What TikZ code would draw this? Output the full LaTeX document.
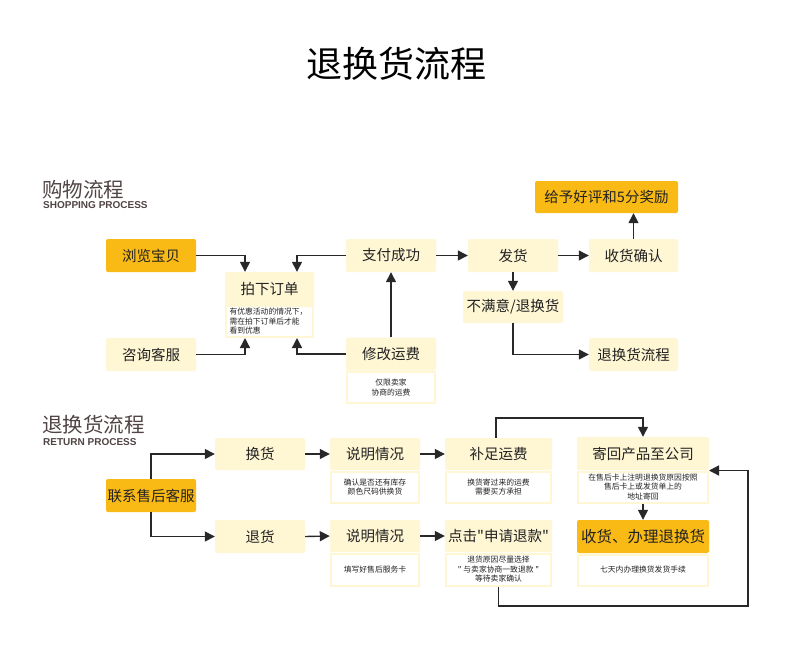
\documentclass[tikz,border=0pt]{standalone}
\usepackage{fontspec}
\setmainfont{Liberation Sans}
\newfontfamily\cjk{Noto Sans CJK SC}
\usetikzlibrary{arrows.meta,calc}
\definecolor{gold}{RGB}{249,186,22}
\definecolor{lightY}{RGB}{255,246,212}
\definecolor{lineC}{RGB}{40,40,40}
\definecolor{headC}{RGB}{80,68,68}
\definecolor{txt}{RGB}{34,34,34}
\begin{document}
\begin{tikzpicture}[x=1pt,y=-1pt,
  box/.style={rectangle, rounded corners=2pt, inner sep=0pt, text=txt,
    font=\cjk\fontsize{14.5}{16}\selectfont},
  lbox/.style={box, fill=lightY},
  obox/.style={box, fill=gold},
  note/.style={rectangle, fill=white, draw=lightY, line width=2pt, inner sep=0pt,
    text=txt, align=center, font=\cjk\fontsize{7.8}{9.5}\selectfont},
  conn/.style={draw=lineC, line width=1.4pt, -{Triangle[length=10pt,width=10pt]}},
  plain/.style={draw=lineC, line width=1.4pt},
  headzh/.style={anchor=west, inner sep=0pt, text=headC, font=\cjk\fontsize{20.5}{22}\selectfont},
  heden/.style={anchor=west, inner sep=0pt, text=headC, font=\bfseries\fontsize{10}{12}\selectfont}
]
\useasboundingbox[fill=white] (0,0) rectangle (790,667);

% title and headings
\node[inner sep=0pt, text=black, font=\cjk\fontsize{36}{40}\selectfont] (title) at (396,64) {退换货流程};
\node[headzh] (h1) at (42,190) {购物流程};
\node[heden] (h1e) at (43,205) {SHOPPING PROCESS};
\node[headzh] (h2) at (42,425) {退换货流程};
\node[heden] (h2e) at (43,442) {RETURN PROCESS};

% ---------- shopping process ----------
\node[obox, minimum width=90pt, minimum height=33pt] (browse) at (151,255.5) {浏览宝贝};
\node[lbox, minimum width=90pt, minimum height=33pt] (consult) at (151,354.5) {咨询客服};
\node[lbox, minimum width=89pt, minimum height=34pt] (order) at (269.5,289) {拍下订单};
\node[note, align=left, text width=80pt, minimum width=87pt, minimum height=31pt] (onote) at (269.5,321.5)
  {有优惠活动的情况下，\\需在拍下订单后才能\\看到优惠};
\node[lbox, minimum width=90pt, minimum height=33pt] (pay) at (391,255.5) {支付成功};
\node[lbox, minimum width=90pt, minimum height=33pt] (modify) at (391,354) {修改运费};
\node[note, minimum width=88pt, minimum height=31pt] (mnote) at (391,387.5) {仅限卖家\\协商的运费};
\node[lbox, minimum width=90pt, minimum height=33pt] (ship) at (513,255.5) {发货};
\node[lbox, minimum width=89pt, minimum height=33pt] (receive) at (633.5,255.5) {收货确认};
\node[obox, minimum width=143pt, minimum height=32pt] (praise) at (606.5,197) {给予好评和5分奖励};
\node[lbox, minimum width=100pt, minimum height=32pt] (unsat) at (513,307) {不满意/退换货};
\node[lbox, minimum width=89pt, minimum height=33pt] (rflow) at (633.5,354.5) {退换货流程};

\draw[conn] (browse.east) -| ($(order.north)+(-24.5,0)$);
\draw[conn] (consult.east) -| ($(onote.south)+(-24.5,0)$);
\draw[conn] (pay.west) -| ($(order.north)+(27.5,0)$);
\draw[conn] (modify.west) -| ($(onote.south)+(27.5,0)$);
\draw[conn] (modify.north) -- (pay.south);
\draw[conn] (pay.east) -- (ship.west);
\draw[conn] (ship.east) -- (receive.west);
\draw[conn] (receive.north) -- (receive.north |- praise.south);
\draw[conn] (ship.south) -- (unsat.north);
\draw[conn] (unsat.south) |- (rflow.west);

% ---------- return process ----------
\node[obox, minimum width=90pt, minimum height=33pt] (contact) at (151,495.5) {联系售后客服};
\node[lbox, minimum width=90pt, minimum height=32pt] (exch) at (260,454) {换货};
\node[lbox, minimum width=90pt, minimum height=33pt] (refund) at (260,536.5) {退货};

\node[lbox, minimum width=90pt, minimum height=32pt] (exp1) at (375,454) {说明情况};
\node[note, minimum width=88pt, minimum height=31pt] (n1) at (375,487) {确认是否还有库存\\颜色尺码供换货};
\node[lbox, minimum width=107pt, minimum height=32pt] (fee) at (498.5,454) {补足运费};
\node[note, minimum width=105pt, minimum height=31pt] (n2) at (498.5,487) {换货寄过来的运费\\需要买方承担};

\node[lbox, minimum width=90pt, minimum height=32pt] (exp2) at (375,536) {说明情况};
\node[note, minimum width=88pt, minimum height=32pt] (n3) at (375,569.5) {填写好售后服务卡};
\node[lbox, minimum width=107pt, minimum height=32pt] (click) at (498.5,536) {点击"申请退款"};
\node[note, minimum width=105pt, minimum height=32pt] (n4) at (498.5,569.5) {退货原因尽量选择\\" 与卖家协商一致退款 "\\等待卖家确认};

\node[lbox, minimum width=132pt, minimum height=33pt] (back) at (643,453.5) {寄回产品至公司};
\node[note, minimum width=130pt, minimum height=31pt] (n5) at (643,487) {在售后卡上注明退换货原因按照\\售后卡上或发货单上的\\地址寄回};
\node[obox, minimum width=132pt, minimum height=33pt, font=\cjk\fontsize{15.5}{18}\selectfont] (handle) at (643,536.5) {收货、办理退换货};
\node[note, minimum width=130pt, minimum height=31pt] (n6) at (643,570) {七天内办理换货发货手续};

\coordinate (topc) at (496,418);
\coordinate (loopc) at (748,606);

\draw[conn] (contact.north) |- (exch.west);
\draw[conn] (contact.south) |- (refund.west);
\draw[conn] (exch.east) -- (exp1.west);
\draw[conn] (exp1.east) -- (fee.west);
\draw[conn] (refund.east) -- (exp2.west);
\draw[conn] (exp2.east) -- (click.west);
\draw[conn] (topc |- fee.north) -- (topc) -| (back.north);
\draw[conn] (n5.south) -- (handle.north);
\draw[conn] (n4.south) |- (loopc) |- (n5.north east);
\end{tikzpicture}
\end{document}
